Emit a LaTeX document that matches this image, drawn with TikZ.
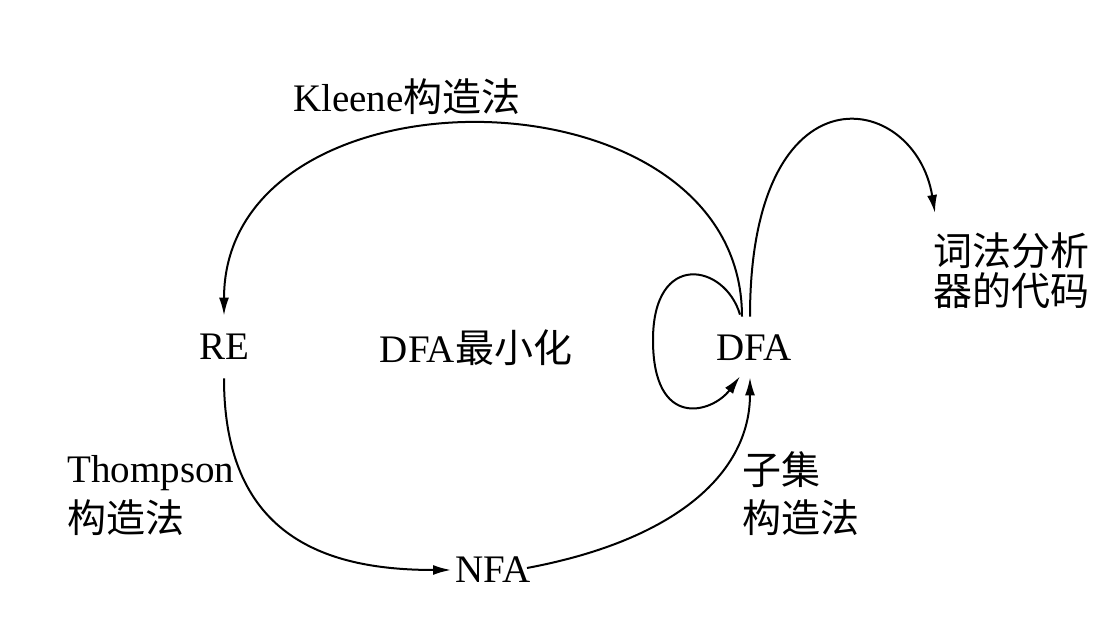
\documentclass[tikz,border=0pt]{standalone}
\usepackage{fontspec}
\setmainfont{Liberation Serif}
\newfontfamily\cjk{Noto Sans CJK SC}
\usetikzlibrary{arrows.meta,calc}
\begin{document}
\begin{tikzpicture}[x=0.5pt,y=-0.5pt,
  lbl/.style={inner sep=0pt,font=\fontsize{19.5}{24}\selectfont},
  st/.style={inner xsep=2pt,inner ysep=9pt,text height=13pt,text depth=0pt,font=\fontsize{19.5}{24}\selectfont},
  conn/.style={line width=1pt,-{Latex[length=9pt,width=5pt]}}]
\useasboundingbox[fill=white] (0,0) rectangle (1116,620);
\node[st] (re) at (224,347) {RE};
\node[st] (mid) at (476,350) {DFA{\cjk 最小化}};
\node[st] (dfa) at (754,348) {DFA};
\node[st] (nfa) at (493,570) {NFA};
\node[lbl] (kleene) at (407,97) {Kleene{\cjk 构造法}};
\node[lbl,align=left,anchor=north west,font=\fontsize{19.5}{20}\selectfont\cjk] (code) at (933,232) {词法分析\\器的代码};
\node[lbl,align=left,anchor=west,font=\fontsize{19.5}{25}\selectfont] (thompson) at (67,496) {Thompson\\{\cjk 构造法}};
\node[lbl,align=left,anchor=west,font=\fontsize{19.5}{24}\selectfont\cjk] (subset) at (742,494) {子集\\构造法};
\coordinate (loopL) at (653,340);
% Kleene construction: DFA -> RE
\draw[conn] ($(dfa.north)+(-12,0)$) .. controls +(0,-255) and +(0,-257) .. (re.north);
% DFA -> lexer code
\draw[conn] ($(dfa.north)+(-4,0)$) .. controls +(0,-255) and +(-20,-123) .. ($(code.north west)+(2,-19)$);
% DFA minimisation self loop
\draw[conn] ($(dfa.north)+(-14,-2)$) .. controls +(-15,-51) and +(0,-90) .. (loopL)
  .. controls +(0,90) and +(-28,37) .. ($(dfa.south)+(-14,-3)$);
% Thompson: RE -> NFA
\draw[conn] (re.south) .. controls +(0,162) and +(-120,0) .. (nfa.west);
% Subset construction: NFA -> DFA
\draw[conn] ($(nfa.east)+(-8,-2)$) .. controls +(150,-28) and +(0,95) .. ($(dfa.south)+(-4,-2)$);
\end{tikzpicture}
\end{document}
